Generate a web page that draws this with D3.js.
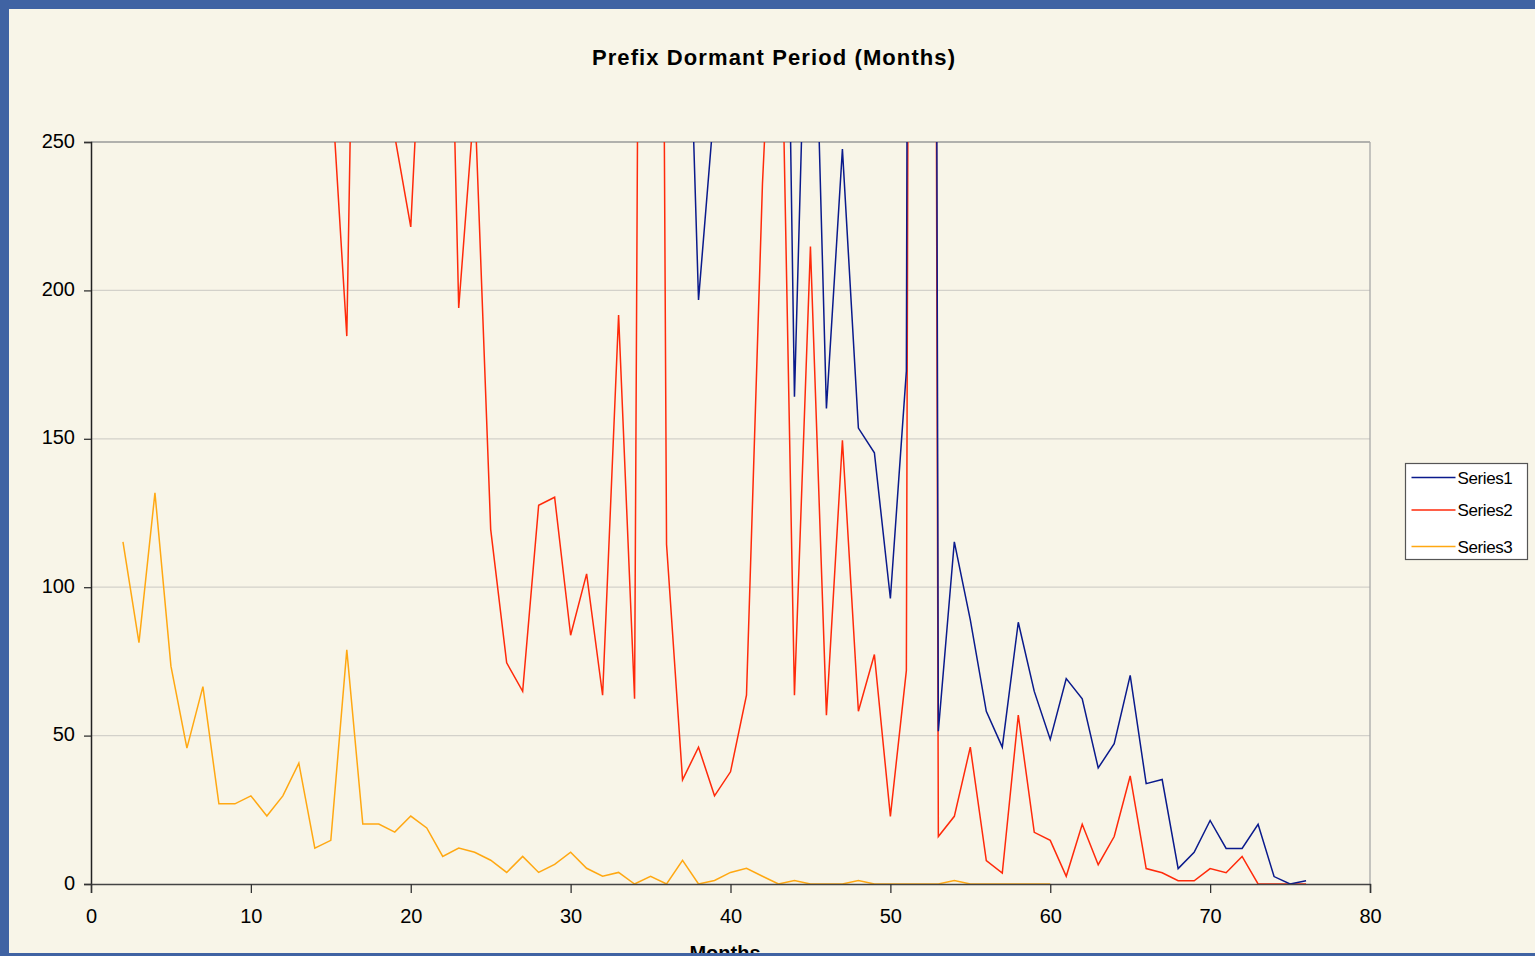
<!DOCTYPE html>
<html>
<head>
<meta charset="utf-8">
<script src="https://cdn.jsdelivr.net/npm/d3@7"></script>
<style>
    body { margin: 0; background: #f8f5e8; }
    svg { display: block; }
</style>
</head>
<body>
<div id="chart"></div>
<script>

// data (values above 250 are clipped in the original)
var months1 = [37, 38, 39, 40, 41, 42, 43, 44, 45, 46, 47, 48, 49, 50, 51, 52, 53, 54, 55, 56,
    57, 58, 59, 60, 61, 62, 63, 64, 65, 66, 67, 68, 69, 70, 71, 72, 73, 74, 75, 76]
var series1 = [374, 196.8, 263, 310, 420, 560, 522, 164.2, 360, 160.2, 247.6, 153.6, 145.3, 96.2, 172.8, 2200, 51.5, 115.3, 89, 58.2,
    46.1, 88.2, 64.9, 48.7, 69.2, 62.4, 39.1, 47.3, 70.3, 33.8, 35.2, 5.2, 10.7, 21.4, 12.0, 12.0, 20.1, 2.5, 0, 1.1]

var months2 = [15, 16, 17, 18, 19, 20, 21, 22, 23, 24, 25, 26, 27, 28, 29, 30, 31, 32, 33, 34,
    35, 36, 37, 38, 39, 40, 41, 42, 43, 44, 45, 46, 47, 48, 49, 50, 51, 52, 53, 54,
    55, 56, 57, 58, 59, 60, 61, 62, 63, 64, 65, 66, 67, 68, 69, 70, 71, 72, 73, 74, 75, 76]
var series2 = [273, 184.6, 500, 400, 252, 221.4, 330, 427, 194.1, 265, 119.5, 74.5, 64.9, 127.6, 130.3, 83.8, 104.5, 63.6, 191.7, 62.4,
    1100, 114.4, 35.1, 46.1, 29.7, 37.8, 63.6, 236, 350, 63.6, 214.8, 56.9, 149.5, 58.2, 77.3, 22.8, 71.9, 2000, 16.0, 22.8,
    46.1, 7.9, 3.7, 56.9, 17.4, 14.7, 2.6, 20.1, 6.5, 16.0, 36.4, 5.2, 3.8, 1.1, 1.1, 5.2, 3.8, 9.3, 0, 0, 0, 0]

var months3 = [2, 3, 4, 5, 6, 7, 8, 9, 10, 11, 12, 13, 14, 15, 16, 17, 18, 19, 20, 21,
    22, 23, 24, 25, 26, 27, 28, 29, 30, 31, 32, 33, 34, 35, 36, 37, 38, 39, 40, 41,
    42, 43, 44, 45, 46, 47, 48, 49, 50, 51, 52, 53, 54, 55, 56, 57, 58, 59, 60]
var series3 = [115.3, 81.3, 131.8, 73.4, 45.8, 66.5, 27.0, 27.0, 29.7, 22.9, 29.7, 40.7, 12.1, 14.7, 78.9, 20.2, 20.2, 17.5, 22.9, 18.9,
    9.3, 12.1, 10.7, 8.0, 3.9, 9.3, 3.9, 6.6, 10.7, 5.3, 2.6, 3.9, 0, 2.6, 0, 8.0, 0, 1.2, 3.9, 5.3,
    2.6, 0, 1.2, 0, 0, 0, 1.2, 0, 0, 0, 0, 0, 1.2, 0, 0, 0, 0, 0, 0]

var seriesNames = ['Series1', 'Series2', 'Series3']
var seriesColors = ['#0a1a8c', '#ff2a0a', '#ffa812']
var xTicks = [0, 10, 20, 30, 40, 50, 60, 70, 80]
var yTicks = [0, 50, 100, 150, 200, 250]

var width = 1535
var height = 956

var plot = { left: 91, right: 1370, top: 142, bottom: 884 }

var svg = d3.select('#chart')
    .append('svg')
    .attr('width', width)
    .attr('height', height)

svg.append('rect')
    .attr('width', width)
    .attr('height', height)
    .attr('fill', '#f8f5e8')

var x = d3.scaleLinear().domain([0, 80]).range([plot.left, plot.right])
var y = d3.scaleLinear().domain([0, 250]).range([plot.bottom, plot.top])

svg.append('clipPath')
    .attr('id', 'plotClip')
    .append('rect')
    .attr('x', plot.left)
    .attr('y', plot.top)
    .attr('width', plot.right - plot.left)
    .attr('height', plot.bottom - plot.top)

// gridlines
svg.append('g')
    .selectAll('line')
    .data(yTicks.filter(function(d) { return d > 0 && d < 250 }))
    .enter()
    .append('line')
    .attr('x1', plot.left)
    .attr('x2', plot.right)
    .attr('y1', function(d) { return y(d) })
    .attr('y2', function(d) { return y(d) })
    .attr('stroke', '#d3d1ca')
    .attr('stroke-width', 1.2)

// plot border top/right
svg.append('line')
    .attr('x1', plot.left).attr('x2', plot.right)
    .attr('y1', plot.top).attr('y2', plot.top)
    .attr('stroke', '#9a9a9a').attr('stroke-width', 1.3)
svg.append('line')
    .attr('x1', plot.right).attr('x2', plot.right)
    .attr('y1', plot.top).attr('y2', plot.bottom)
    .attr('stroke', '#a8a8a8').attr('stroke-width', 1.3)

// series lines
var allSeries = [
    { months: months1, values: series1 },
    { months: months2, values: series2 },
    { months: months3, values: series3 }
]

var line = d3.line()
    .x(function(d) { return x(d[0]) })
    .y(function(d) { return y(d[1]) })

svg.append('g')
    .attr('clip-path', 'url(#plotClip)')
    .selectAll('path')
    .data(allSeries.slice().reverse())
    .enter()
    .append('path')
    .attr('d', function(s) {
        return line(s.months.map(function(m, i) { return [m, s.values[i]] }))
    })
    .attr('fill', 'none')
    .attr('stroke', function(s, i) { return seriesColors[2 - i] })
    .attr('stroke-width', 1.5)
    .attr('stroke-linejoin', 'miter')

// axes
var yAxis = d3.axisLeft(y).tickValues(yTicks).tickSize(7).tickPadding(9)
var xAxis = d3.axisBottom(x).tickValues(xTicks).tickSize(9).tickPadding(16)

var gy = svg.append('g')
    .attr('transform', 'translate(' + plot.left + ',0)')
    .call(yAxis)
var gx = svg.append('g')
    .attr('transform', 'translate(0,' + plot.bottom + ')')
    .call(xAxis)

gy.select('.domain').attr('stroke', '#222').attr('stroke-width', 1.5)
gx.select('.domain').attr('stroke', '#444').attr('stroke-width', 1.5)
svg.selectAll('.tick line').attr('stroke', '#333').attr('stroke-width', 1.3)
svg.selectAll('.tick text')
    .attr('fill', '#000')
    .style('font-family', '"Liberation Sans", Arial, sans-serif')
    .style('font-size', '20px')
gy.selectAll('.tick text').attr('dy', '0.25em')

// title
svg.append('text')
    .attr('x', 774)
    .attr('y', 65)
    .attr('text-anchor', 'middle')
    .style('font-family', '"Liberation Sans", Arial, sans-serif')
    .style('font-size', '22px')
    .style('font-weight', 'bold')
    .style('letter-spacing', '1.1px')
    .text('Prefix Dormant Period (Months)')

// x axis title (cut by the border as in the original)
svg.append('text')
    .attr('x', 725)
    .attr('y', 960)
    .attr('text-anchor', 'middle')
    .style('font-family', '"Liberation Sans", Arial, sans-serif')
    .style('font-size', '20px')
    .style('font-weight', 'bold')
    .text('Months')

// legend
var legend = svg.append('g').attr('transform', 'translate(1405.5,463.5)')

legend.append('rect')
    .attr('width', 122)
    .attr('height', 96)
    .attr('fill', '#ffffff')
    .attr('stroke', '#555')
    .attr('stroke-width', 1.2)

var legendY = [14, 46.5, 83]

var items = legend.selectAll('.item')
    .data(seriesNames)
    .enter()
    .append('g')
    .attr('class', 'item')
    .attr('transform', function(d, i) { return 'translate(0,' + legendY[i] + ')' })

items.append('line')
    .attr('x1', 6)
    .attr('x2', 50)
    .attr('stroke', function(d, i) { return seriesColors[i] })
    .attr('stroke-width', 1.3)

items.append('text')
    .attr('x', 52)
    .attr('y', 6)
    .style('font-family', '"Liberation Sans", Arial, sans-serif')
    .style('font-size', '17px')
    .style('letter-spacing', '-0.4px')
    .text(function(d) { return d })

// window border
svg.append('rect').attr('x', 0).attr('y', 0).attr('width', width).attr('height', 9).attr('fill', '#4063a3')
svg.append('rect').attr('x', 0).attr('y', 0).attr('width', 9).attr('height', height).attr('fill', '#4063a3')
svg.append('rect').attr('x', 0).attr('y', 953).attr('width', width).attr('height', 3).attr('fill', '#4063a3')

</script>
</body>
</html>
